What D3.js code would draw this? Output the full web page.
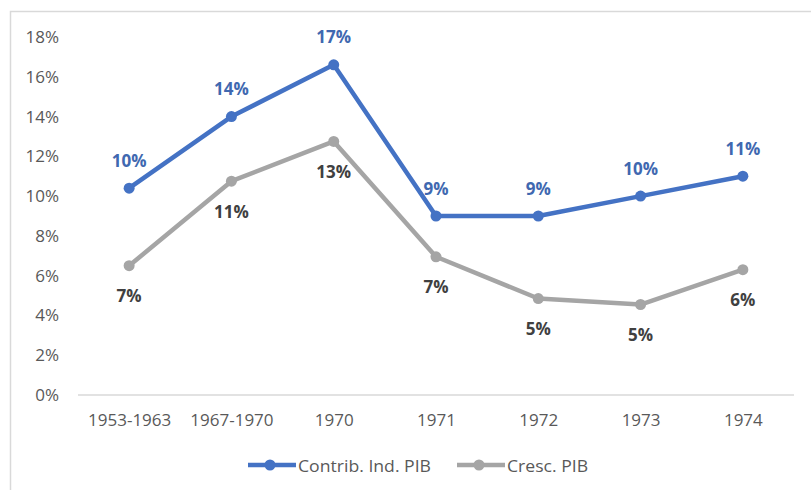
<!DOCTYPE html>
<html><head><meta charset="utf-8">
<script src="https://cdn.jsdelivr.net/npm/d3@7"></script>
<style>body{margin:0;background:#fff}svg{display:block}text{font-family:"Open Sans","Liberation Sans",sans-serif}</style>
</head><body>
<svg id="c" width="811" height="490"></svg>
<script>
const categories = ["1953-1963","1967-1970","1970","1971","1972","1973","1974"];
const contribInd = [10.4, 14.0, 16.6, 9.0, 9.0, 10.0, 11.0];
const crescPIB = [6.5, 10.75, 12.75, 6.95, 4.85, 4.55, 6.3];
const yTicks = [0,2,4,6,8,10,12,14,16,18];
const seriesNames = ["Contrib. Ind. PIB","Cresc. PIB"];

const svg = d3.select("#c");
const W=811,H=490;
const m={left:78,right:17,top:37,bottom:95};
const x=d3.scalePoint().domain(categories).range([m.left,W-m.right]).padding(0.5);
const y=d3.scaleLinear().domain([0,18]).range([H-m.bottom,m.top]);

// border
svg.append("path").attr("d",`M10.5,${H} V11.5 H${W}`).attr("fill","none").attr("stroke","#d9d9d9").attr("stroke-width",1.5);

// y axis labels
const ya=svg.append("g").attr("transform",`translate(${m.left},0)`).call(d3.axisLeft(y).tickValues(yTicks).tickFormat(d=>d+"%").tickSize(0).tickPadding(19));
ya.select(".domain").remove();
ya.selectAll("text").attr("fill","#595959").attr("font-size",17).attr("font-family",null);

// x axis
svg.append("line").attr("x1",m.left).attr("x2",W-m.right).attr("y1",y(0)).attr("y2",y(0)).attr("stroke","#d9d9d9").attr("stroke-width",1.5);
const xa=svg.append("g").attr("transform",`translate(0,${y(0)})`).call(d3.axisBottom(x).tickSize(0).tickPadding(19));
xa.select(".domain").remove();
xa.selectAll("text").attr("fill","#595959").attr("font-size",17).attr("font-family",null);

const series=[
 {name:seriesNames[0],vals:contribInd,color:"#4472C4",lab:"#4068B0",dy:-28},
 {name:seriesNames[1],vals:crescPIB,color:"#A5A5A5",lab:"#404040",dy:30}
];
const line=d3.line().x((d,i)=>x(categories[i])).y(d=>y(d));
series.slice().reverse().forEach(s=>{
  svg.append("path").datum(s.vals).attr("d",line).attr("fill","none").attr("stroke",s.color).attr("stroke-width",4.5).attr("stroke-linejoin","round");
  svg.selectAll(null).data(s.vals).enter().append("circle").attr("cx",(d,i)=>x(categories[i])).attr("cy",d=>y(d)).attr("r",5.5).attr("fill",s.color);
});
series.forEach(s=>{
  svg.selectAll(null).data(s.vals).enter().append("text").attr("x",(d,i)=>x(categories[i])).attr("y",d=>y(d)+s.dy)
   .attr("text-anchor","middle").attr("dominant-baseline","central").attr("font-weight","bold").attr("font-size",17).attr("fill",s.lab)
   .text(d=>Math.round(d)+"%");
});

// legend
const leg=[{x:248,w:133},{x:457,w:81}];
series.forEach((s,i)=>{
  const lx=leg[i].x, ly=465;
  svg.append("line").attr("x1",lx).attr("x2",lx+48).attr("y1",ly).attr("y2",ly).attr("stroke",s.color).attr("stroke-width",4.5);
  svg.append("circle").attr("cx",lx+22).attr("cy",ly).attr("r",5.5).attr("fill",s.color);
  svg.append("text").attr("x",lx+50).attr("y",ly).attr("dominant-baseline","central").attr("font-size",16.5).attr("fill","#595959")
    .attr("textLength",leg[i].w).attr("lengthAdjust","spacingAndGlyphs").text(s.name);
});
</script>
</body></html>
